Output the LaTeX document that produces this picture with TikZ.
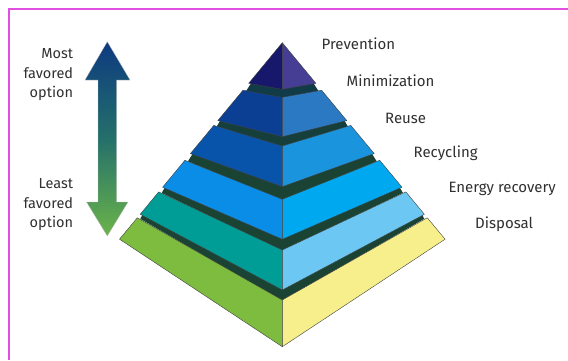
\documentclass[tikz,border=0pt]{standalone}
\usepackage{fontspec}
\setmainfont{Fira Sans}
\definecolor{frame}{HTML}{E24DE2}
\definecolor{band}{HTML}{1B4333}
\definecolor{bandA}{HTML}{113B46}
\definecolor{bandB}{HTML}{163F3C}
\definecolor{tipL}{HTML}{17176B}
\definecolor{tipR}{HTML}{463E94}
\definecolor{sbL}{HTML}{0A3F94}
\definecolor{sbR}{HTML}{2C79C3}
\definecolor{scL}{HTML}{0854AA}
\definecolor{scR}{HTML}{1A94DC}
\definecolor{sdL}{HTML}{0A8DE6}
\definecolor{sdR}{HTML}{00A9EF}
\definecolor{seL}{HTML}{009C96}
\definecolor{seR}{HTML}{6CC8F2}
\definecolor{sfL}{HTML}{7DBC3E}
\definecolor{sfR}{HTML}{F6EF8C}
\definecolor{txt}{HTML}{303030}
\definecolor{arTop}{HTML}{0D3A80}
\definecolor{arMid}{HTML}{24706A}
\definecolor{arBot}{HTML}{6BB44A}
\begin{document}
\begin{tikzpicture}[x=1pt,y=-1pt,
  face/.style={draw=black!75,line width=0.4pt,line join=round},
  lbl/.style={text=txt,font=\fontsize{15}{18}\selectfont,inner sep=0pt,anchor=base west},
  sidelbl/.style={text=txt,font=\fontsize{14.5}{18}\selectfont,inner sep=0pt,anchor=base east}]
\useasboundingbox (0,0) rectangle (568,360);
% frame
\draw[frame,line width=1.4pt] (9,360) -- (9,9) -- (568,9);
% arrow
\shade[top color=arTop,bottom color=arBot,middle color=arMid,draw=black!25,line width=0.3pt]
  (107.3,41.7) -- (130,80) -- (116.5,80) -- (116.5,202) -- (128,202) -- (107.3,236)
  -- (86.5,202) -- (98,202) -- (98,80) -- (85,80) -- cycle;
% dark bands (drawn first)
\fill[bandA] (251.7,82.3) -- (282.3,88.3) -- (312.9,82.3) -- (318.6,91.2) -- (282.3,98.3) -- (246,91.2) -- cycle;
\fill[bandB] (220.8,119.6) -- (282.3,135.7) -- (343.8,119.6) -- (347.8,126.4) -- (282.3,147) -- (216.8,126.4) -- cycle;
\fill[band] (193.4,152.6) -- (282.3,185.7) -- (371.2,152.6) -- (376.7,161.3) -- (282.3,200.3) -- (187.9,161.3) -- cycle;
\fill[band] (165.6,186.2) -- (282.3,238.3) -- (399,186.2) -- (402.9,192.9) -- (282.3,251) -- (161.7,192.9) -- cycle;
\fill[band] (143.2,213.3) -- (282.3,289) -- (421.4,213.3) -- (424.3,218.8) -- (282.3,301) -- (140.3,218.8) -- cycle;
% tip (Prevention)
\filldraw[face,fill=tipL] (282.3,42.7) -- (248.7,83.3) -- (282.3,89.3) -- cycle;
\filldraw[face,fill=tipR] (282.3,42.7) -- (315.9,83.3) -- (282.3,89.3) -- cycle;
% slab 2 (Minimization)
\filldraw[face,fill=sbL] (282.3,97.3) -- (243.0,90.2) -- (217.8,120.6) -- (282.3,136.7) -- cycle;
\filldraw[face,fill=sbR] (282.3,97.3) -- (321.6,90.2) -- (346.8,120.6) -- (282.3,136.7) -- cycle;
% slab 3 (Reuse)
\filldraw[face,fill=scL] (282.3,146) -- (213.8,125.4) -- (190.4,153.6) -- (282.3,186.7) -- cycle;
\filldraw[face,fill=scR] (282.3,146) -- (350.8,125.4) -- (374.2,153.6) -- (282.3,186.7) -- cycle;
% slab 4 (Recycling)
\filldraw[face,fill=sdL] (282.3,199.3) -- (184.9,160.3) -- (162.6,187.2) -- (282.3,239.3) -- cycle;
\filldraw[face,fill=sdR] (282.3,199.3) -- (379.7,160.3) -- (402.0,187.2) -- (282.3,239.3) -- cycle;
% slab 5 (Energy recovery)
\filldraw[face,fill=seL] (282.3,250) -- (158.7,191.9) -- (140.2,214.3) -- (282.3,290) -- cycle;
\filldraw[face,fill=seR] (282.3,250) -- (405.9,191.9) -- (424.4,214.3) -- (282.3,290) -- cycle;
% slab 6 (Disposal)
\filldraw[face,fill=sfL] (282.3,300) -- (137.3,217.8) -- (119.5,239.2) -- (282.3,346.7) -- cycle;
\filldraw[face,fill=sfR] (282.3,300) -- (427.3,217.8) -- (445.1,239.2) -- (282.3,346.7) -- cycle;
% labels
\node[lbl] (prev) at (321.5,49.5) {Prevention};
\node[lbl] (mini) at (346.5,86.5) {Minimization};
\node[lbl] (reuse) at (385,123) {Reuse};
\node[lbl] (recy) at (413.5,157.5) {Recycling};
\node[lbl] (energy) at (448.3,192.5) {Energy recovery};
\node[lbl] (disp) at (475,228) {Disposal};
% side labels
\node[sidelbl] (most1) at (73.3,58) {Most};
\node[sidelbl] (most2) at (73.3,78.5) {favored};
\node[sidelbl] (most3) at (73.3,97.5) {option};
\node[sidelbl] (least1) at (73.3,188) {Least};
\node[sidelbl] (least2) at (73.3,208) {favored};
\node[sidelbl] (least3) at (73.3,227) {option};
\end{tikzpicture}
\end{document}
